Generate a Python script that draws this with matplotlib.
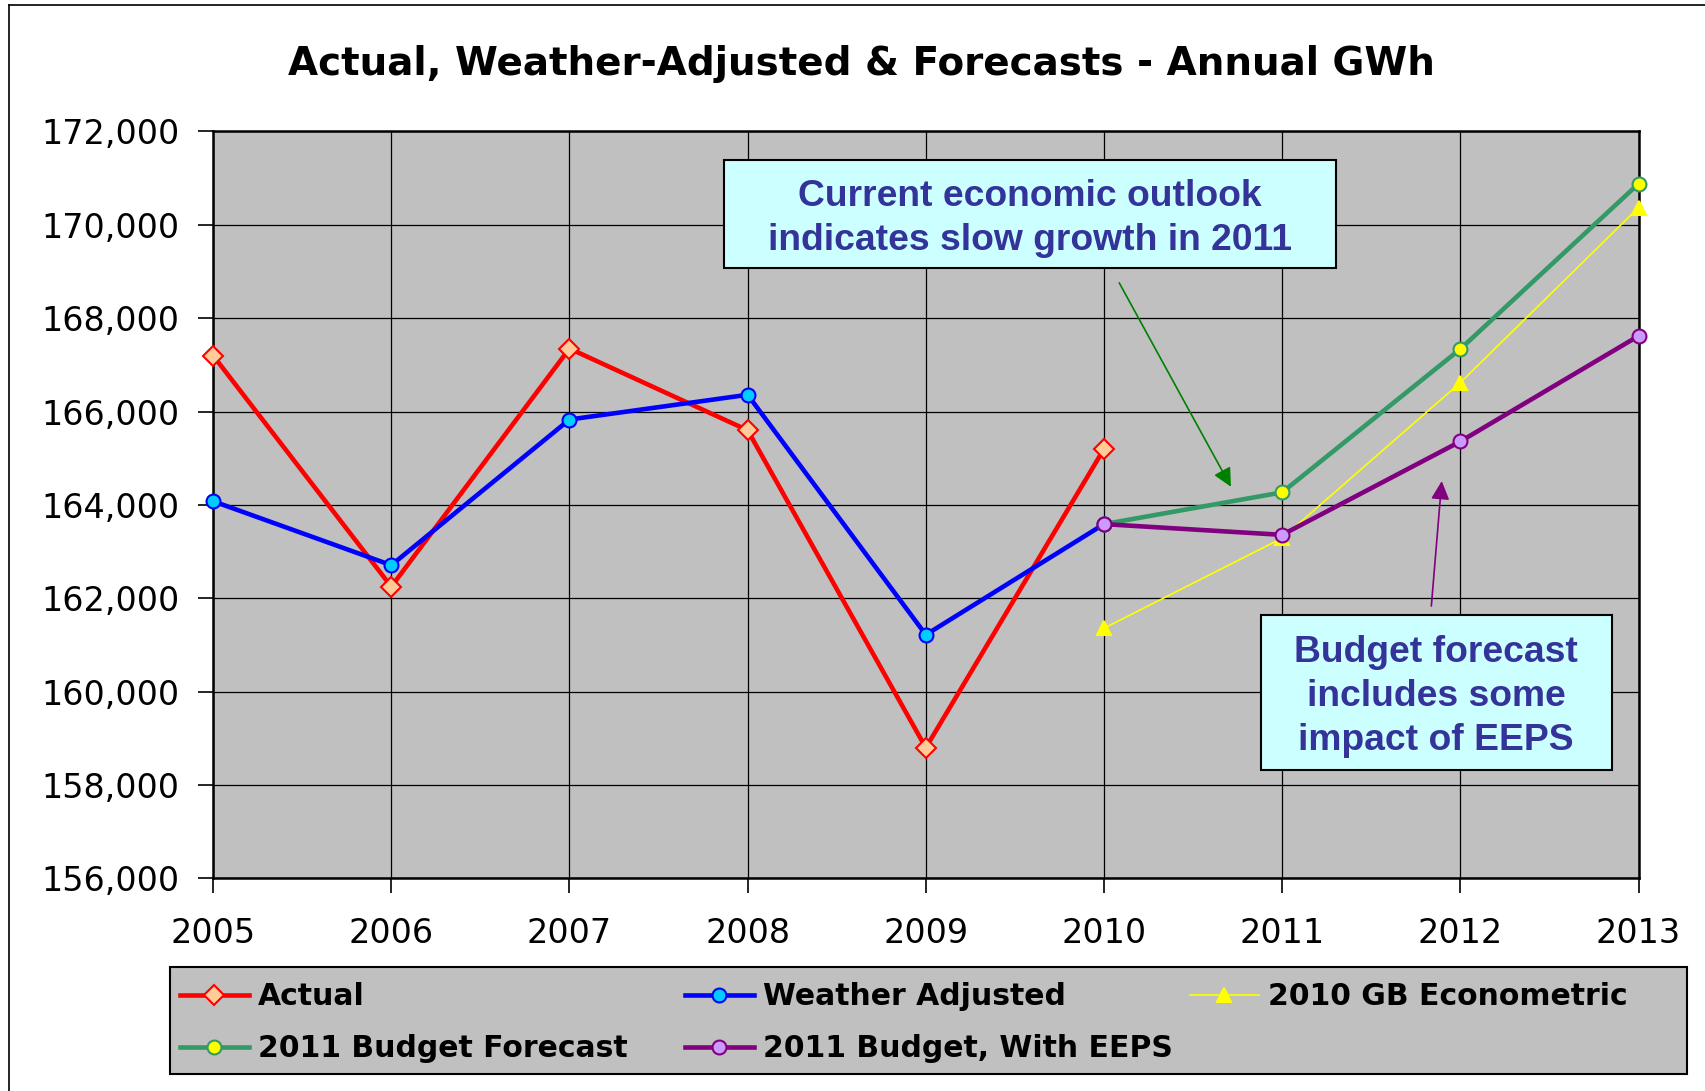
import matplotlib
matplotlib.use("Agg")
import matplotlib.pyplot as plt
from matplotlib.ticker import StrMethodFormatter
from matplotlib.patches import Rectangle
from matplotlib.lines import Line2D

# data (GWh)
years_hist = [2005, 2006, 2007, 2008, 2009, 2010]
actual = [167200, 162250, 167350, 165600, 158800, 165200]
weather_adj = [164080, 162710, 165830, 166360, 161220, 163590]

years_fc = [2010, 2011, 2012, 2013]
gb_econ = [161360, 163290, 166620, 170370]
budget_fc = [163590, 164270, 167340, 170880]
budget_eeps = [163590, 163360, 165360, 167620]

all_years = list(range(2005, 2014))

fig = plt.figure(figsize=(17.05, 10.91), dpi=100)
ax = fig.add_axes([0.125, 0.1948, 0.836, 0.6847])
ax.set_facecolor('#C0C0C0')

mk = dict(ms=10, mew=1.5, clip_on=False, zorder=3)
ax.plot(years_hist, actual, color='#FF0000', lw=3.3, marker='D',
        mfc='#FFCC99', mec='#FF0000', label='Actual', **mk)
ax.plot(years_hist, weather_adj, color='#0000FF', lw=3.3, marker='o',
        mfc='#00CCFF', mec='#0000FF', label='Weather Adjusted', **mk)
ax.plot(years_fc, gb_econ, color='#FFFF00', lw=1.2, marker='^',
        mfc='#FFFF00', mec='#FFFF00', label='2010 GB Econometric', **mk)
ax.plot(years_fc, budget_fc, color='#339966', lw=3.3, marker='o',
        mfc='#FFFF00', mec='#339966', label='2011 Budget Forecast', **mk)
ax.plot(years_fc, budget_eeps, color='#800080', lw=3.3, marker='o',
        mfc='#CC99FF', mec='#800080', label='2011 Budget, With EEPS', **mk)

ax.set_xlim(2005, 2013)
ax.set_ylim(156000, 172000)
ax.set_xticks(all_years)
ax.set_yticks(range(156000, 172001, 2000))
ax.yaxis.set_major_formatter(StrMethodFormatter('{x:,.0f}'))
ax.tick_params(labelsize=24, length=11, width=1.2, pad=13, direction='out')
ax.tick_params(axis='x', pad=17)
ax.grid(True, color='black', lw=0.9)
ax.set_axisbelow(True)
for s in ax.spines.values():
    s.set_linewidth(1.8)

fig.text(0.505, 0.941, 'Actual, Weather-Adjusted & Forecasts - Annual GWh',
         ha='center', va='center', fontsize=28, fontweight='bold')

# annotation boxes
box_kw = dict(facecolor='#CCFFFF', edgecolor='black', lw=1.5, zorder=5)
txt_kw = dict(ha='center', va='center', fontsize=26.8, fontweight='bold',
              color='#333399', family='Liberation Sans', linespacing=1.33, zorder=6)
ax.add_patch(Rectangle((2007.869, 169066), 3.431, 2328, **box_kw))
ax.text(2009.585, 170140, 'Current economic outlook\nindicates slow growth in 2011', **txt_kw)
ax.add_patch(Rectangle((2010.879, 158330), 1.971, 3307, **box_kw))
ax.text(2011.864, 159900, 'Budget forecast\nincludes some\nimpact of EEPS', **txt_kw)

ax.annotate('', xy=(2010.72, 164338), xytext=(2010.078, 168810),
            arrowprops=dict(arrowstyle='-|>', color='#008000', lw=1.2,
                            mutation_scale=28), zorder=4)
ax.annotate('', xy=(2011.897, 164571), xytext=(2011.836, 161777),
            arrowprops=dict(arrowstyle='-|>', color='#800080', lw=1.2,
                            mutation_scale=28), zorder=4)

# legend box, Excel style: 3 columns filled row-wise
fig.add_artist(Rectangle((0.0995, 0.0156), 0.89, 0.0976, transform=fig.transFigure,
                         facecolor='#C0C0C0', edgecolor='black', lw=1.5, zorder=1))
h, l = ax.get_legend_handles_labels()
columns = [([0, 3], 0.1056), ([1, 4], 0.4018), ([2], 0.698)]
for idx, x0 in columns:
    lg = fig.legend([h[i] for i in idx], [l[i] for i in idx], loc='upper left',
                    bbox_to_anchor=(x0, 0.0995), frameon=False,
                    prop=dict(size=21.5, weight='bold'), handlelength=2.3,
                    handletextpad=0.3, labelspacing=0.76, borderpad=0,
                    borderaxespad=0)
    lg.set_zorder(2)

# outer chart border (top and left visible)
fig.add_artist(Line2D([0.0053, 1.0], [0.9954, 0.9954], color='black', lw=1.2))
fig.add_artist(Line2D([0.0053, 0.0053], [0.0, 0.9954], color='black', lw=1.2))

fig.savefig('out.png', dpi=100)
